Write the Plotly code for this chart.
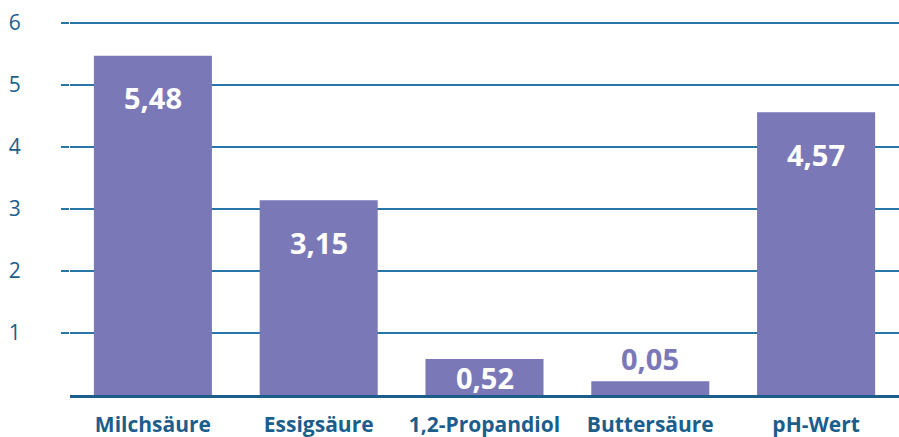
import plotly.graph_objects as go

categories = ["Milchsäure", "Essigsäure", "1,2-Propandiol", "Buttersäure", "pH-Wert"]
# bar heights as drawn in the picture (small bars are drawn taller than their labels)
bar_heights = [5.47, 3.14, 0.58, 0.22, 4.56]
value_labels = ["5,48", "3,15", "0,52", "0,05", "4,57"]
y_ticks = [1, 2, 3, 4, 5, 6]

BAR = "#7b78b8"
TXT = "#1b5e8c"
GRID = "#2677a8"
FONT = "Open Sans"

fig = go.Figure(go.Bar(x=categories, y=bar_heights, marker=dict(color=BAR, line=dict(width=0)),
                       hoverinfo="skip"))

annotations = []
for c, v, lab in zip(categories, bar_heights, value_labels):
    if v >= 1:
        annotations.append(dict(x=c, y=v, yshift=-42, text=lab, showarrow=False, yanchor="middle",
                                font=dict(family=FONT, size=29, color="white", weight="bold")))
    elif v >= 0.4:
        annotations.append(dict(x=c, y=v / 2, text=lab, showarrow=False, yanchor="middle",
                                font=dict(family=FONT, size=29, color="white", weight="bold")))
    else:
        annotations.append(dict(x=c, y=v, yshift=23, text=lab, showarrow=False, yanchor="middle",
                                font=dict(family=FONT, size=29, color=BAR, weight="bold")))

fig.update_layout(
    width=899, height=437,
    margin=dict(l=70, r=0, t=21, b=42),
    paper_bgcolor="white", plot_bgcolor="white",
    bargap=0.288,
    showlegend=False,
    annotations=annotations,
    font=dict(family=FONT),
)
fig.update_xaxes(
    showgrid=False, showline=True, linecolor=TXT, linewidth=3,
    ticks="outside", ticklen=9, tickcolor="rgba(0,0,0,0)",
    automargin=False,
    tickfont=dict(family=FONT, size=21, color=TXT, weight="bold"),
)
fig.update_yaxes(
    range=[0, 6.03], tickvals=y_ticks, showgrid=True, gridcolor=GRID, gridwidth=2,
    zeroline=False, showline=False, automargin=False,
    ticks="outside", ticklen=8, tickcolor=GRID, tickwidth=2,
    ticklabelstandoff=36,
    tickfont=dict(family=FONT, size=21, color=TXT),
)
fig.write_html(
    "out.html",
    config={"displayModeBar": False},
    post_script="document.body.style.margin='0';document.body.style.overflow='hidden';",
)
